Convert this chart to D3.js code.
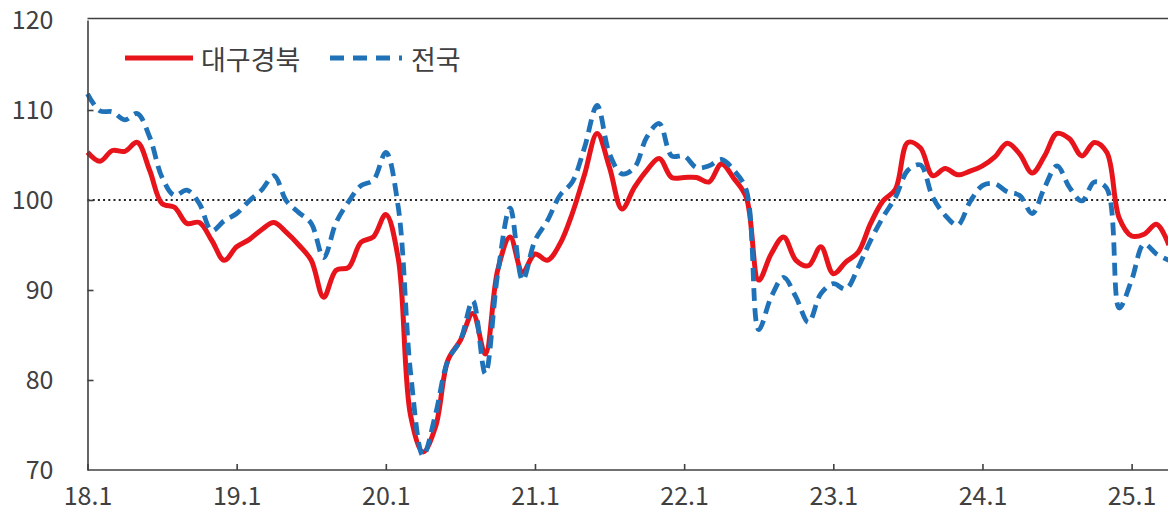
<!DOCTYPE html>
<html><head><meta charset="utf-8">
<script src="https://cdn.jsdelivr.net/npm/d3@7"></script>
<style>
html,body{margin:0;padding:0;background:#fff;overflow:hidden}
svg{display:block}
text{font-family:"Noto Sans CJK KR","Noto Sans",sans-serif;fill:#404040}
</style></head>
<body>
<svg id="chart" width="1168" height="514"></svg>
<script>
(function(){
// Month categories 18.1 ... 25.4
const categories = [];
for (let yr = 18; yr <= 25; yr++) for (let m = 1; m <= 12; m++) { if (yr === 25 && m > 4) break; categories.push(yr + "." + m); }
const xTickLabels = ["18.1","19.1","20.1","21.1","22.1","23.1","24.1","25.1"];
const yTicks = [70, 80, 90, 100, 110, 120];
const seriesNames = ["대구경북", "전국"];

const daeguValues = [
 105.3,104.3,105.5,105.4,106.4,103.3,99.6,99.2,97.4,97.5,95.5,93.3,
 94.8,95.6,96.7,97.5,96.4,95.0,93.3,89.2,92.2,92.5,95.3,95.9,
 98.4,93.5,76.0,72.0,74.8,82.2,84.4,87.4,82.9,92.2,95.9,92.0,
 94.0,93.3,95.1,98.5,102.9,107.4,103.6,99.0,101.4,103.3,104.6,102.5,
 102.5,102.5,102.0,104.0,102.4,100.3,91.1,94.0,95.9,93.3,92.7,94.8,
 91.8,93.1,94.2,97.4,99.9,101.2,106.4,105.8,102.7,103.5,102.8,103.2,
 103.8,104.8,106.3,105.1,103.0,104.9,107.4,106.8,104.9,106.4,105.3,98.0,
 96.0,96.2,97.3,95.0
];
const nationValues = [
 111.8,109.9,109.8,108.9,109.6,107.0,102.5,100.5,101.1,99.6,96.6,97.7,
 98.5,99.9,101.1,102.7,99.9,98.6,97.4,93.6,97.5,99.8,101.6,102.2,
 105.3,99.2,80.7,71.6,76.2,82.2,84.4,88.8,80.7,91.8,99.1,91.1,
 95.5,97.7,100.5,102.0,105.9,110.5,105.1,102.9,103.6,107.0,108.5,104.9,
 104.9,103.6,103.8,104.5,103.3,101.1,85.6,89.2,91.4,89.2,86.4,89.6,
 90.7,90.1,92.5,95.5,98.1,100.3,103.3,103.9,100.3,98.3,97.2,99.8,
 101.6,101.8,100.9,100.5,98.5,101.4,103.8,101.4,99.9,102.0,101.3,88.0,
 91.1,95.1,94.0,93.3
];

const svg = d3.select("#chart");
const plotLeft = 87.5, plotTop = 20, plotBottom = 470, plotRight = 1200;
const step = 12.43;
const x = d3.scaleLinear().domain([0, categories.length - 1]).range([plotLeft, plotLeft + step * (categories.length - 1)]);
const y = d3.scaleLinear().domain([70, 120]).range([plotBottom, plotTop]);

// top border
svg.append("line").attr("x1", plotLeft).attr("x2", plotRight).attr("y1", y(120) - 1.5).attr("y2", y(120) - 1.5)
  .attr("stroke", "#404040").attr("stroke-width", 1.6);

// reference line at 100
svg.append("line").attr("x1", plotLeft).attr("x2", plotRight).attr("y1", y(100)).attr("y2", y(100))
  .attr("stroke", "#222").attr("stroke-width", 2).attr("stroke-dasharray", "2,3.2");

const line = d3.line().x((d, i) => x(i)).y(d => y(d)).curve(d3.curveCatmullRom.alpha(0.5));

svg.append("path").datum(daeguValues).attr("d", line)
  .attr("fill", "none").attr("stroke", "#e8141c").attr("stroke-width", 5).attr("stroke-linejoin", "round");
svg.append("path").datum(nationValues).attr("d", line)
  .attr("fill", "none").attr("stroke", "#1f72b8").attr("stroke-width", 4.8).attr("stroke-dasharray", "13,7");

// axes
const xAxis = d3.axisBottom(x)
  .tickValues(xTickLabels.map(l => categories.indexOf(l)))
  .tickFormat(i => categories[i])
  .tickSizeInner(-6).tickSizeOuter(0).tickPadding(17);
const gx = svg.append("g").attr("transform", `translate(0,${plotBottom})`).call(xAxis);
gx.select(".domain").attr("d", `M${plotLeft},0H${plotRight}`);

const yAxis = d3.axisLeft(y).tickValues(yTicks).tickSizeInner(-6).tickSizeOuter(0).tickPadding(34);
const gy = svg.append("g").attr("transform", `translate(${plotLeft},0)`).call(yAxis);

[gx, gy].forEach(g => {
  g.select(".domain").attr("stroke", "#404040").attr("stroke-width", 1.6);
  g.selectAll(".tick line").attr("stroke", "#404040").attr("stroke-width", 1.6);
  g.selectAll(".tick text").attr("font-size", 25).attr("fill", "#404040")
    .style("font-family", '"Noto Sans CJK KR","Noto Sans",sans-serif');
});
gy.selectAll(".tick").filter(d => d === 70 || d === 120).select("line").remove();

// legend
const legend = svg.append("g");
legend.append("line").attr("x1", 125).attr("x2", 193).attr("y1", 58).attr("y2", 58)
  .attr("stroke", "#e8141c").attr("stroke-width", 5);
legend.append("text").attr("x", 201).attr("y", 58).attr("dominant-baseline", "central")
  .attr("font-size", 27).text(seriesNames[0]);
legend.append("line").attr("x1", 330).attr("x2", 402).attr("y1", 58).attr("y2", 58)
  .attr("stroke", "#1f72b8").attr("stroke-width", 5).attr("stroke-dasharray", "14,9");
legend.append("text").attr("x", 411).attr("y", 58).attr("dominant-baseline", "central")
  .attr("font-size", 27).text(seriesNames[1]);
})();
</script>
</body></html>
